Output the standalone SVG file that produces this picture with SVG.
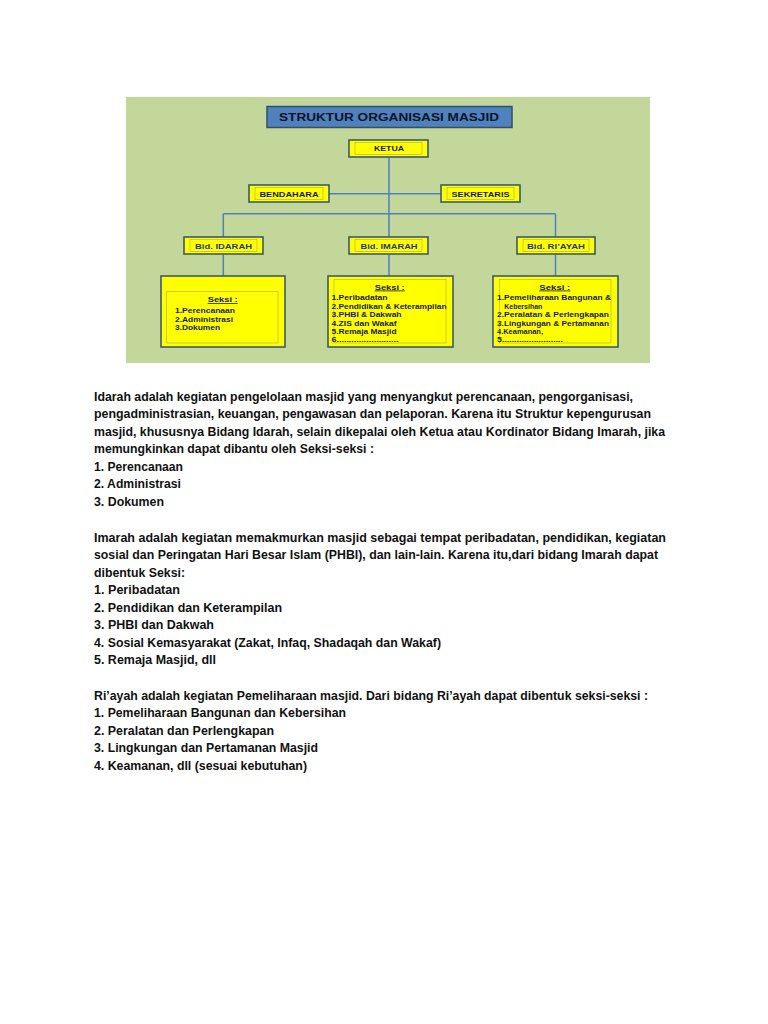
<svg xmlns="http://www.w3.org/2000/svg" width="768" height="1024" viewBox="0 0 768 1024">
<style>
.box{fill:#ffff00;stroke:#3d5a6c;stroke-width:1.6}
.inner{fill:none;stroke:#a8a86a;stroke-width:0.6}
.lbl{font-family:"Liberation Sans",Arial,sans-serif;font-weight:bold;font-size:7.5px;fill:#1a1a2e;text-anchor:middle}
.bid{font-family:"Liberation Sans",Arial,sans-serif;font-weight:bold;font-size:7.5px;fill:#1f3a6e;text-anchor:middle}
.sk{font-family:"Liberation Sans",Arial,sans-serif;font-weight:bold;font-size:8px;fill:#1a1a3a}
.skh{font-family:"Liberation Sans",Arial,sans-serif;font-weight:bold;font-size:8px;fill:#1a1a3a;text-decoration:underline}
.conn{stroke:#4f81bd;stroke-width:1.5;fill:none}
.p{font-family:"Liberation Sans",Arial,sans-serif;font-weight:bold;font-size:13px;fill:#111}
</style>
<rect width="768" height="1024" fill="#ffffff"/>
<rect x="126" y="97" width="524" height="266" fill="#c4d79b"/>
<g id="connectors">
<line class="conn" x1="389" y1="157" x2="389" y2="237"/>
<line class="conn" x1="329" y1="193.7" x2="441" y2="193.7"/>
<line class="conn" x1="223.3" y1="213.7" x2="555.5" y2="213.7"/>
<line class="conn" x1="223.3" y1="213.7" x2="223.3" y2="237"/>
<line class="conn" x1="555.5" y1="213.7" x2="555.5" y2="237"/>
<line class="conn" x1="223.3" y1="254.3" x2="223.3" y2="276"/>
<line class="conn" x1="389" y1="254.3" x2="389" y2="276"/>
<line class="conn" x1="555.5" y1="254.3" x2="555.5" y2="276"/>
</g>
<g id="title">
<rect x="267" y="106.5" width="245" height="21" fill="#4f81bd" stroke="#2f4f6f" stroke-width="1.5"/>
<text x="389" y="121" font-family="'Liberation Sans',Arial,sans-serif" font-weight="bold" font-size="10.5" fill="#0a1428" text-anchor="middle" textLength="220" lengthAdjust="spacingAndGlyphs">STRUKTUR ORGANISASI MASJID</text>
</g>
<g id="ketua">
<rect class="box" x="349" y="140" width="79" height="17"/>
<rect class="inner" x="355" y="142.5" width="67" height="12"/>
<text class="lbl" x="389" y="151.3" textLength="30" lengthAdjust="spacingAndGlyphs">KETUA</text>
</g>
<g id="bendahara">
<rect class="box" x="249" y="185" width="80" height="17"/>
<rect class="inner" x="255" y="187.5" width="68" height="12"/>
<text class="lbl" x="289" y="196.8" textLength="59" lengthAdjust="spacingAndGlyphs">BENDAHARA</text>
</g>
<g id="sekretaris">
<rect class="box" x="441" y="185" width="79" height="17"/>
<rect class="inner" x="447" y="187.5" width="67" height="12"/>
<text class="lbl" x="480.5" y="196.8" textLength="58" lengthAdjust="spacingAndGlyphs">SEKRETARIS</text>
</g>
<g id="bid-idarah">
<rect class="box" x="184" y="237" width="79" height="17"/>
<rect class="inner" x="190" y="239.5" width="67" height="12"/>
<text class="bid" x="223.5" y="248.5" textLength="57" lengthAdjust="spacingAndGlyphs">Bid. IDARAH</text>
</g>
<g id="bid-imarah">
<rect class="box" x="349" y="237" width="79" height="17"/>
<rect class="inner" x="355" y="239.5" width="67" height="12"/>
<text class="bid" x="389" y="248.5" textLength="57" lengthAdjust="spacingAndGlyphs">Bid. IMARAH</text>
</g>
<g id="bid-riayah">
<rect class="box" x="517" y="237" width="78" height="17"/>
<rect class="inner" x="523" y="239.5" width="66" height="12"/>
<text class="bid" x="556" y="248.5" textLength="58" lengthAdjust="spacingAndGlyphs">Bid. RI’AYAH</text>
</g>
<g id="seksi-idarah">
<rect class="box" x="161" y="276" width="124" height="71"/>
<rect class="inner" x="166.7" y="291.7" width="111.3" height="51.3"/>
<text class="skh" x="207.7" y="302" textLength="30" lengthAdjust="spacingAndGlyphs">Seksi :</text>
<text class="sk" x="175" y="313" textLength="60" lengthAdjust="spacingAndGlyphs">1.Perencanaan</text>
<text class="sk" x="175" y="321.5" textLength="58" lengthAdjust="spacingAndGlyphs">2.Administrasi</text>
<text class="sk" x="175" y="330" textLength="45" lengthAdjust="spacingAndGlyphs">3.Dokumen</text>
</g>
<g id="seksi-imarah">
<rect class="box" x="328" y="276" width="125" height="71"/>
<rect class="inner" x="334" y="279.5" width="112" height="63.5"/>
<text class="skh" x="374.7" y="289.5" textLength="30" lengthAdjust="spacingAndGlyphs">Seksi :</text>
<text class="sk" x="331.5" y="300.3" textLength="56" lengthAdjust="spacingAndGlyphs">1.Peribadatan</text>
<text class="sk" x="331.5" y="308.7" textLength="115" lengthAdjust="spacingAndGlyphs">2.Pendidikan &amp; Keterampilan</text>
<text class="sk" x="331.5" y="317.2" textLength="70" lengthAdjust="spacingAndGlyphs">3.PHBI &amp; Dakwah</text>
<text class="sk" x="331.5" y="325.6" textLength="65" lengthAdjust="spacingAndGlyphs">4.ZIS dan Wakaf</text>
<text class="sk" x="331.5" y="333.8" textLength="65" lengthAdjust="spacingAndGlyphs">5.Remaja Masjid</text>
<text class="sk" x="331.5" y="342" textLength="67" lengthAdjust="spacingAndGlyphs">6.........................</text>
</g>
<g id="seksi-riayah">
<rect class="box" x="493" y="276" width="125" height="71"/>
<rect class="inner" x="499.3" y="279.5" width="111.7" height="63.5"/>
<text class="skh" x="539.3" y="289.5" textLength="31" lengthAdjust="spacingAndGlyphs">Seksi :</text>
<text class="sk" x="497" y="300.3" textLength="114" lengthAdjust="spacingAndGlyphs">1.Pemeliharaan  Bangunan  &amp;</text>
<text class="sk" x="504.3" y="308.7" textLength="38" lengthAdjust="spacingAndGlyphs">Kebersihan</text>
<text class="sk" x="497" y="317.2" textLength="112" lengthAdjust="spacingAndGlyphs">2.Peralatan &amp; Perlengkapan</text>
<text class="sk" x="497" y="325.6" textLength="112" lengthAdjust="spacingAndGlyphs">3.Lingkungan &amp; Pertamanan</text>
<text class="sk" x="497" y="333.8" textLength="46" lengthAdjust="spacingAndGlyphs">4.Keamanan,</text>
<text class="sk" x="497" y="342" textLength="66" lengthAdjust="spacingAndGlyphs">5.........................</text>
</g>
<g id="text-idarah">
<text class="p" x="94" y="400.5" textLength="539" lengthAdjust="spacingAndGlyphs">Idarah adalah kegiatan pengelolaan masjid yang menyangkut perencanaan, pengorganisasi,</text>
<text class="p" x="94" y="418" textLength="557" lengthAdjust="spacingAndGlyphs">pengadministrasian, keuangan, pengawasan dan pelaporan. Karena itu Struktur kepengurusan</text>
<text class="p" x="94" y="435.5" textLength="571" lengthAdjust="spacingAndGlyphs">masjid, khususnya Bidang Idarah, selain dikepalai oleh Ketua atau Kordinator Bidang Imarah, jika</text>
<text class="p" x="94" y="453" textLength="280" lengthAdjust="spacingAndGlyphs">memungkinkan dapat dibantu oleh Seksi-seksi :</text>
<text class="p" x="94" y="470.5" textLength="89" lengthAdjust="spacingAndGlyphs">1. Perencanaan</text>
<text class="p" x="94" y="488" textLength="87" lengthAdjust="spacingAndGlyphs">2. Administrasi</text>
<text class="p" x="94" y="505.5" textLength="70" lengthAdjust="spacingAndGlyphs">3. Dokumen</text>
</g>
<g id="text-imarah">
<text class="p" x="94" y="541.5" textLength="572" lengthAdjust="spacingAndGlyphs">Imarah adalah kegiatan memakmurkan masjid sebagai tempat peribadatan, pendidikan, kegiatan</text>
<text class="p" x="94" y="559" textLength="564" lengthAdjust="spacingAndGlyphs">sosial dan Peringatan Hari Besar Islam (PHBI), dan lain-lain. Karena itu,dari bidang Imarah dapat</text>
<text class="p" x="94" y="576.5" textLength="91" lengthAdjust="spacingAndGlyphs">dibentuk Seksi:</text>
<text class="p" x="94" y="594" textLength="86" lengthAdjust="spacingAndGlyphs">1. Peribadatan</text>
<text class="p" x="94" y="611.5" textLength="188" lengthAdjust="spacingAndGlyphs">2. Pendidikan dan Keterampilan</text>
<text class="p" x="94" y="629" textLength="120" lengthAdjust="spacingAndGlyphs">3. PHBI dan Dakwah</text>
<text class="p" x="94" y="646.5" textLength="347" lengthAdjust="spacingAndGlyphs">4. Sosial Kemasyarakat (Zakat, Infaq, Shadaqah dan Wakaf)</text>
<text class="p" x="94" y="664" textLength="122" lengthAdjust="spacingAndGlyphs">5. Remaja Masjid, dll</text>
</g>
<g id="text-riayah">
<text class="p" x="94" y="699.5" textLength="554" lengthAdjust="spacingAndGlyphs">Ri’ayah adalah kegiatan Pemeliharaan masjid. Dari bidang Ri’ayah dapat dibentuk seksi-seksi :</text>
<text class="p" x="94" y="717" textLength="252" lengthAdjust="spacingAndGlyphs">1. Pemeliharaan Bangunan dan Kebersihan</text>
<text class="p" x="94" y="734.5" textLength="180" lengthAdjust="spacingAndGlyphs">2. Peralatan dan Perlengkapan</text>
<text class="p" x="94" y="752" textLength="224" lengthAdjust="spacingAndGlyphs">3. Lingkungan dan Pertamanan Masjid</text>
<text class="p" x="94" y="769.5" textLength="213" lengthAdjust="spacingAndGlyphs">4. Keamanan, dll (sesuai kebutuhan)</text>
</g>
</svg>
